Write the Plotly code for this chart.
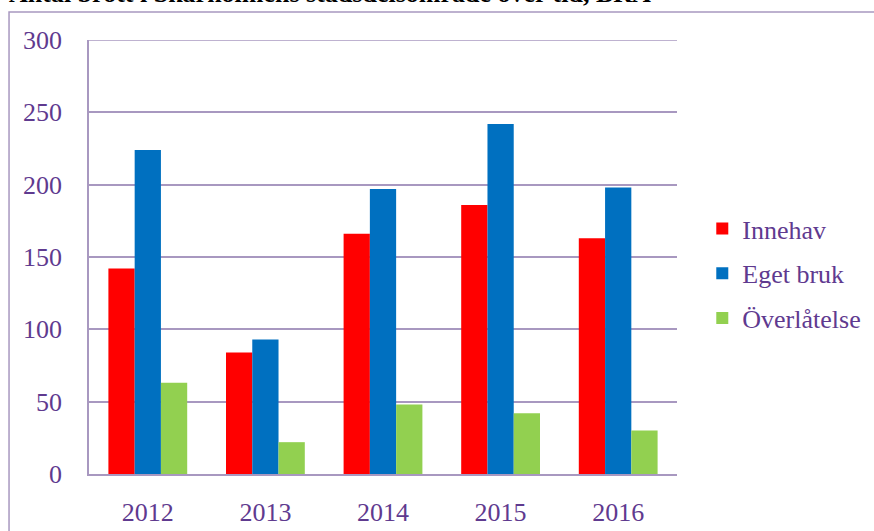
import plotly.graph_objects as go

years = ["2012", "2013", "2014", "2015", "2016"]
innehav = [142, 84, 166, 186, 163]
eget_bruk = [224, 93, 197, 242, 198]
overlatelse = [63, 22, 48, 42, 30]
series_names = ["Innehav", "Eget bruk", "Överlåtelse"]
title_text = "Antal brott i Skärholmens stadsdelsområde över tid, BRÅ"
y_max = 300

colors = ["#FF0000", "#0070C0", "#92D050"]
purple = "#5F3A8F"
grid = "#A898C0"
font = "Liberation Serif, Times New Roman, DejaVu Serif, serif"

fig = go.Figure()
for name, vals, c in zip(series_names, [innehav, eget_bruk, overlatelse], colors):
    fig.add_trace(go.Bar(x=years, y=vals, name=name, marker=dict(color=c, line=dict(width=0)),
                         legendgroup=name))

fig.update_layout(
    width=874, height=531,
    margin=dict(l=89, r=197, t=40, b=57, autoexpand=False),
    paper_bgcolor="white", plot_bgcolor="white",
    barmode="group", bargap=0.33, bargroupgap=0,
    font=dict(family=font, size=26, color=purple),
    showlegend=True,
    legend=dict(x=1.043, y=0.462, xanchor="left", yanchor="middle",
                traceorder="grouped", tracegroupgap=8,
                font=dict(family=font, size=26, color=purple),
                itemwidth=30, bgcolor="rgba(0,0,0,0)"),
    yaxis=dict(range=[0, y_max], dtick=50, showgrid=True, gridcolor=grid, gridwidth=1.5,
               showline=True, linecolor=grid, linewidth=1.5, ticks="", zeroline=False,
               automargin=False,
               ticklabelstandoff=20, tickfont=dict(family=font, size=26, color=purple)),
    xaxis=dict(showline=True, linecolor=grid, linewidth=1.5, ticks="", automargin=False,
               ticklabelstandoff=14, tickfont=dict(family=font, size=26, color=purple)),
)

# top gridline at the max of the value axis
fig.add_shape(type="line", xref="paper", yref="y", x0=0, x1=1, y0=y_max, y1=y_max,
              line=dict(color=grid, width=1.5), layer="below")

# outer chart border
fig.add_shape(type="rect", xref="paper", yref="paper",
              x0=-0.136, x1=1.5, y0=-0.3, y1=1.0645,
              line=dict(color=grid, width=1.5), fillcolor="rgba(0,0,0,0)", layer="below")

fig.add_annotation(text="<b>" + title_text + "</b>", xref="paper", yref="paper",
                   x=-0.139, y=1.068, xanchor="left", yanchor="bottom", showarrow=False,
                   font=dict(family=font, size=26, color="black"))

fig.write_html("out.html", config={"displayModeBar": False},
               post_script="document.body.style.margin='0';")
